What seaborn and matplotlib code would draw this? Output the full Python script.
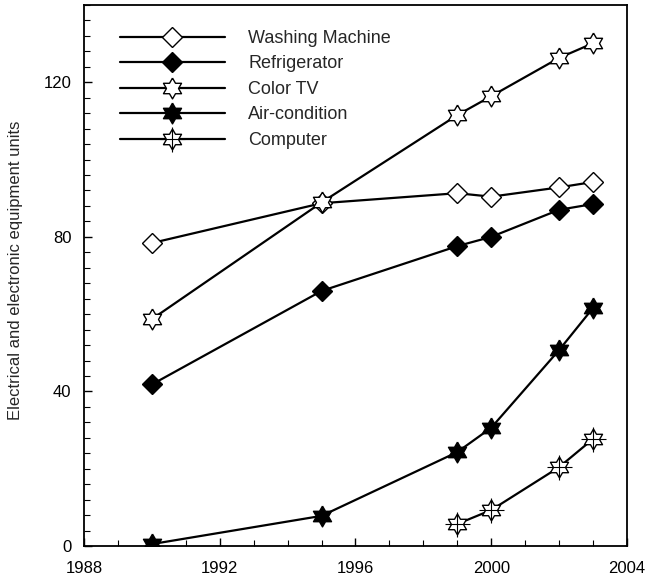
import matplotlib

matplotlib.use("Agg")
import matplotlib.pyplot as plt
import numpy as np
import seaborn as sns
from matplotlib.ticker import MultipleLocator

YEARS = [1990, 1995, 1999, 2000, 2002, 2003]
COMPUTER_YEARS = [1999, 2000, 2002, 2003]

washing_machine = [78.4, 88.7, 91.3, 90.4, 92.8, 94.2]
refrigerator = [41.8, 66.0, 77.6, 80.0, 87.0, 88.5]
color_tv = [58.7, 88.9, 111.5, 116.4, 126.3, 130.1]
air_condition = [0.5, 7.8, 24.3, 30.6, 50.7, 61.6]
computer = [5.7, 9.3, 20.4, 27.7]

sns.set_style("white")
plt.rcParams["font.family"] = ["Liberation Sans", "DejaVu Sans"]


def hexagram():
    # star of david outline: 6 outer points, inner radius 1/sqrt(3)
    ang = np.pi / 2 + np.arange(12) * np.pi / 6
    rad = np.where(np.arange(12) % 2 == 0, 1.0, 1 / np.sqrt(3))
    pts = np.column_stack([rad * np.cos(ang), rad * np.sin(ang)])
    return np.vstack([pts, pts[:1]])


star = hexagram()

fig = plt.figure(figsize=(6.47, 5.81), dpi=100)
ax = fig.add_axes([0.1298, 0.0602, 0.8392, 0.9312])

line_kw = dict(color="black", linewidth=1.6, markeredgecolor="black",
               markeredgewidth=1.0)

sns.lineplot(x=YEARS, y=washing_machine, ax=ax, marker="D", markersize=10,
             markerfacecolor="white", label="Washing Machine", **line_kw)
sns.lineplot(x=YEARS, y=refrigerator, ax=ax, marker="D", markersize=10,
             markerfacecolor="black", label="Refrigerator", **line_kw)
sns.lineplot(x=YEARS, y=color_tv, ax=ax, marker=star, markersize=15,
             markerfacecolor="white", label="Color TV", **line_kw)
sns.lineplot(x=YEARS, y=air_condition, ax=ax, marker=star, markersize=15,
             markerfacecolor="black", label="Air-condition", **line_kw)
sns.lineplot(x=COMPUTER_YEARS, y=computer, ax=ax, marker=star, markersize=15,
             markerfacecolor="white", label="Computer", **line_kw)
# the computer marker has an extra cross through the star
plus = ax.plot(COMPUTER_YEARS, computer, linestyle="none", marker="+",
               markersize=18, markeredgecolor="black", markeredgewidth=0.8)[0]

handles, labels = ax.get_legend_handles_labels()
handles[4] = (handles[4], plus)
ax.legend(handles, labels, loc="upper left", bbox_to_anchor=(0.066, 0.954),
          frameon=False, fontsize=13, handlelength=5.8, handletextpad=1.3,
          labelspacing=0.47, borderpad=0, borderaxespad=0)

ax.set_xlim(1988, 2004)
ax.set_ylim(0, 140)
ax.xaxis.set_major_locator(MultipleLocator(4))
ax.xaxis.set_minor_locator(MultipleLocator(1))
ax.yaxis.set_major_locator(MultipleLocator(40))
ax.yaxis.set_minor_locator(MultipleLocator(4))
ax.tick_params(which="both", direction="in", left=True, bottom=True,
               top=False, right=False, labelsize=12, colors="black")
ax.tick_params(which="major", length=6, width=1)
ax.tick_params(which="minor", length=4, width=0.8)
ax.tick_params(axis="y", pad=9)
ax.tick_params(axis="x", pad=11)
for spine in ax.spines.values():
    spine.set_color("black")
    spine.set_linewidth(1.3)

ax.set_ylabel("Electrical and electronic equipment units", fontsize=12)
ax.yaxis.set_label_coords(-0.112, 0.51)
ax.set_xlabel("")

fig.savefig("out.png", dpi=100)
